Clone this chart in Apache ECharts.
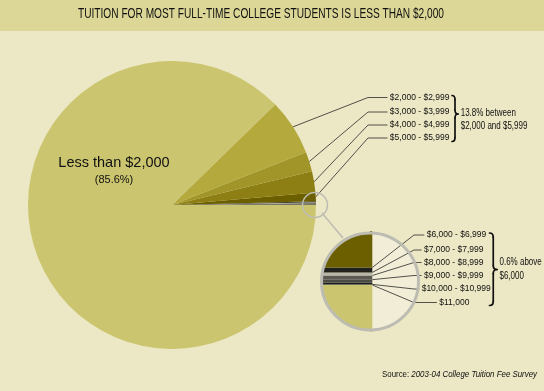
<!DOCTYPE html>
<html><head><meta charset="utf-8">
<script src="https://cdn.jsdelivr.net/npm/echarts@6/dist/echarts.min.js"></script>
<style>html,body{margin:0;padding:0;background:#ece7c4;}#c{width:544px;height:391px;}</style>
</head><body><div id="c"></div>
<script>
// ---- data ----
const categories = ['Less than $2,000', '$2,000 - $2,999', '$3,000 - $3,999', '$4,000 - $4,999', '$5,000 - $5,999',
  '$6,000 - $6,999', '$7,000 - $7,999', '$8,000 - $8,999', '$9,000 - $9,999', '$10,000 - $10,999', '$11,000'];
const shares = [87.7, 6.3, 2.2, 2.4, 0.95, 0.12, 0.075, 0.1, 0.075, 0.04, 0.015];
const bigLabel = ['Less than $2,000', '(85.6%)'];
const groupLabels = ['13.8% between', '$2,000 and $5,999', '0.6% above', '$6,000'];
const titleText = 'TUITION FOR MOST FULL-TIME COLLEGE STUDENTS IS LESS THAN $2,000';
const sourceText = ['Source: ', '2003-04 College Tuition Fee Survey'];

// ---- styles ----
const sliceColors = ['#cbc56f', '#b3a93c', '#a1952a', '#8d7f13', '#6c5f00',
  '#22221c', '#b8b6a4', '#5a5a52', '#4c4c45', '#1c1c18', '#9a9888'];
const BG = '#ece7c4';
const LBL_FONT = "'Liberation Sans',sans-serif";
const LBL_SIZE = 8.5;
const GAP = ' ';
const mainLabelPos = {
  '$2,000 - $2,999': [387.5, 97.5, 19.5],
  '$3,000 - $3,999': [387.5, 112, 19.5],
  '$4,000 - $4,999': [387.5, 125, 19.5],
  '$5,000 - $5,999': [387.5, 138, 19.5]
};
const bigLabelPos = [114, 171];
const insetLabelPos = {
  '$6,000 - $6,999': [424.3, 235, 10.3],
  '$7,000 - $7,999': [421.6, 250, 7.6],
  '$8,000 - $8,999': [421.6, 262.5, 7.6],
  '$9,000 - $9,999': [421.6, 275.5, 7.6],
  '$10,000 - $10,999': [419.3, 289, 5.3],
  '$11,000': [436.9, 302.5, 22.9]
};
const inset = {cx: 370, cy: 281.5, r: 48.5, edgeX: 372.3, top: 231, height: 101, above: 1.31, below: 1.14};
const zoomSpot = {cx: 315, cy: 205, r: 12.5};

const n = categories.length;
const pieIdx = categories.map((_, i) => n - 1 - i);
const pieNames = pieIdx.map(i => categories[i]);

const pieData = pieIdx.map(i => {
  const name = categories[i];
  const item = {name: name, value: shares[i], itemStyle: {color: sliceColors[i]}};
  if (i === 0) {
    item.label = {show: true, position: 'inside', padding: 0,
      formatter: '{a|' + bigLabel[0] + '}\n{b|' + bigLabel[1] + '}',
      rich: {a: {fontSize: 14.5, lineHeight: 18, fontFamily: LBL_FONT, color: '#111'},
             b: {fontSize: 11, lineHeight: 17, fontFamily: LBL_FONT, color: '#111'}}};
    item.labelLine = {show: false};
  } else if (mainLabelPos[name]) {
    item.labelLine = {show: true, length2: mainLabelPos[name][2], lineStyle: {color: '#2a2a2a', width: 0.8}};
  } else {
    item.label = {show: false};
    item.labelLine = {show: false};
  }
  return item;
});

const stackOrder = [0, 10, 9, 8, 7, 6, 5, 4, 3, 2, 1];
const barSeries = stackOrder.map(i => {
  const name = categories[i];
  const pos = insetLabelPos[name];
  return {
    type: 'bar', name: name, stack: 'zoom', data: [shares[i]], barWidth: '100%', z: 2, silent: true,
    itemStyle: {color: sliceColors[i]},
    label: pos ? {show: true, formatter: GAP + name, color: '#111', fontSize: LBL_SIZE, fontFamily: LBL_FONT} : {show: false},
    labelLine: {show: !!pos, length2: pos ? pos[2] : 0, lineStyle: {color: '#2a2a2a', width: 0.8}},
    labelLayout: pos ? {x: pos[0], y: pos[1], align: 'left', verticalAlign: 'middle'} : null
  };
});

function brace(x, y0, y1, ym, w) {
  const h = w / 2, r = 4, st = {stroke: '#111', lineWidth: 1.7, fill: null, lineCap: 'round'};
  return [
    {type: 'bezierCurve', shape: {x1: x, y1: y0, cpx1: x + h, cpy1: y0, x2: x + h, y2: y0 + r}, style: st},
    {type: 'line', shape: {x1: x + h, y1: y0 + r, x2: x + h, y2: ym - r}, style: st},
    {type: 'bezierCurve', shape: {x1: x + h, y1: ym - r, cpx1: x + h, cpy1: ym, x2: x + w, y2: ym}, style: st},
    {type: 'bezierCurve', shape: {x1: x + w, y1: ym, cpx1: x + h, cpy1: ym, x2: x + h, y2: ym + r}, style: st},
    {type: 'line', shape: {x1: x + h, y1: ym + r, x2: x + h, y2: y1 - r}, style: st},
    {type: 'bezierCurve', shape: {x1: x + h, y1: y1 - r, cpx1: x + h, cpy1: y1, x2: x, y2: y1}, style: st}
  ];
}

const txt = (x, y, text) => ({type: 'text', x: x, y: y, z: 40, scaleX: 0.8,
  style: {text: text, fontSize: 10, fontFamily: 'Liberation Sans', fill: '#111', align: 'left', verticalAlign: 'middle'}});

const graphics = [
  {type: 'rect', z: 0, shape: {x: 0, y: 0, width: 544, height: 31}, style: {fill: '#dcd796'}},
  {type: 'text', x: 261, y: 14.5, scaleX: 0.725, z: 40,
    style: {text: titleText, fontSize: 14, fontFamily: 'Liberation Sans', fill: '#111', align: 'center', verticalAlign: 'middle'}},
  {type: 'circle', z: 1, shape: {cx: inset.cx, cy: inset.cy, r: inset.r}, style: {fill: '#f1edd6'}},
  {type: 'sector', z: 10, shape: {cx: inset.cx, cy: inset.cy, r0: inset.r - 0.5, r: 76, startAngle: Math.PI / 2, endAngle: Math.PI * 1.5, clockwise: true}, style: {fill: BG}},
  {type: 'circle', z: 30, shape: {cx: inset.cx, cy: inset.cy, r: inset.r}, style: {fill: null, stroke: '#bdbcb2', lineWidth: 3}},
  {type: 'circle', z: 30, shape: {cx: zoomSpot.cx, cy: zoomSpot.cy, r: zoomSpot.r}, style: {fill: null, stroke: '#bdbcb2', lineWidth: 1.5}},
  {type: 'line', z: 30, shape: {x1: 322, y1: 213, x2: 343, y2: 238}, style: {stroke: '#bdbcb2', lineWidth: 1.5}},
  txt(460.7, 113.3, groupLabels[0]),
  txt(460.7, 126, groupLabels[1]),
  txt(499.5, 262, groupLabels[2]),
  txt(499.5, 276, groupLabels[3]),
  {type: 'text', x: 537, y: 374.5, z: 40, scaleX: 0.83,
    style: {text: '{n|' + sourceText[0] + '}{i|' + sourceText[1] + '}', align: 'right', verticalAlign: 'middle',
      rich: {n: {fontSize: 9.5, fontFamily: 'Liberation Sans', fill: '#111', color: '#111'},
             i: {fontSize: 9.5, fontFamily: 'Liberation Sans', fontStyle: 'italic', fill: '#111', color: '#111'}}}}
].concat(brace(452, 95.5, 141.5, 114, 6), brace(489.5, 233, 305.5, 269.5, 7.5)).map(g => { if (g.z == null) g.z = 40; return g; });

const option = {
  backgroundColor: BG,
  animation: false,
  grid: {left: 316, top: inset.top, width: inset.edgeX - 316, height: inset.height},
  xAxis: {type: 'category', data: ['zoom'], show: false},
  yAxis: {type: 'value', show: false, min: shares[0] - inset.below, max: shares[0] + inset.above},
  graphic: {elements: graphics},
  series: [{
    type: 'pie', z: 20, center: [172, 205], radius: 144, startAngle: 0, clockwise: false,
    avoidLabelOverlap: false, silent: true, minAngle: 0,
    label: {show: true, position: 'outside', formatter: GAP + '{b}', color: '#111', fontSize: LBL_SIZE, fontFamily: LBL_FONT},
    labelLine: {show: true, length: 10, length2: 19.5, lineStyle: {color: '#2a2a2a', width: 0.8}},
    labelLayout: function (p) {
      const name = pieNames[p.dataIndex];
      if (name === categories[0]) return {x: bigLabelPos[0], y: bigLabelPos[1], align: 'center', verticalAlign: 'middle'};
      const pos = mainLabelPos[name];
      if (!pos) return {};
      return {x: pos[0], y: pos[1], align: 'left', verticalAlign: 'middle'};
    },
    data: pieData
  }].concat(barSeries)
};
const chart = echarts.init(document.getElementById('c'), null, {width: 544, height: 391});
chart.setOption(option);
</script></body></html>
